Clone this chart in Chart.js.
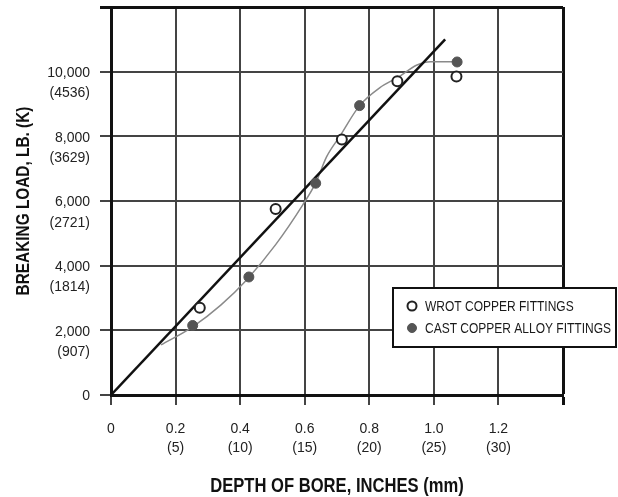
<!DOCTYPE html>
<html>
<head>
<meta charset="utf-8">
<script src="https://cdn.jsdelivr.net/npm/chart.js@4.4.1/dist/chart.umd.min.js"></script>
<style>
  html, body { margin: 0; padding: 0; background: #fff; }
  #wrap { width: 618px; height: 497px; }
</style>
</head>
<body>
<div id="wrap"><canvas id="chart" width="618" height="497"></canvas></div>
<script>
// wrot copper fittings (open circles)
const wrotDepth = [0.275, 0.51, 0.715, 0.887, 1.07];
const wrotLoad  = [2700, 5750, 7900, 9700, 9850];

// cast copper alloy fittings (filled circles)
const castDepth = [0.253, 0.427, 0.634, 0.77, 1.072];
const castLoad  = [2150, 3650, 6550, 8950, 10300];

// straight design line
const lineDepth = [0, 1.035];
const lineLoad  = [0, 11000];

// gray fitted curve
const curveDepth = [0.155, 0.253, 0.34, 0.42, 0.51, 0.594, 0.634, 0.668, 0.708, 0.77, 0.832, 0.893, 0.946, 0.99, 1.07];
const curveLoad  = [1550, 2110, 2780, 3560, 4650, 5880, 6560, 7370, 7990, 8950, 9500, 9850, 10200, 10310, 10310];

// tick labels
const xInch = ['0', '0.2', '0.4', '0.6', '0.8', '1.0', '1.2', ''];
const xMm   = ['', '(5)', '(10)', '(15)', '(20)', '(25)', '(30)', ''];
const yLb   = ['0', '2,000', '4,000', '6,000', '8,000', '10,000', ''];
const yKg   = ['', '(907)', '(1814)', '(2721)', '(3629)', '(4536)', ''];

const seriesNames = ['WROT COPPER FITTINGS', 'CAST COPPER ALLOY FITTINGS'];
const xTitle = 'DEPTH OF BORE, INCHES (mm)';
const yTitle = 'BREAKING LOAD, LB. (K)';

const plain = "'Liberation Sans', Arial, sans-serif";

function pts(xs, ys) {
  return xs.map((x, i) => ({ x: x, y: ys[i] }));
}

// no narrow font installed, so squeeze the text sideways like the condensed original
function squeezeText(ctx, text, x, y, rot, sx) {
  ctx.save();
  ctx.translate(x, y);
  ctx.rotate(rot);
  ctx.scale(sx, 1);
  ctx.fillText(text, 0, 0);
  ctx.restore();
}

// axis titles + legend box drawn over the plot
const extras = {
  id: 'extras',
  afterDraw(chart) {
    const ctx = chart.ctx;
    const area = chart.chartArea;
    ctx.save();
    ctx.fillStyle = '#111';
    ctx.textAlign = 'center';
    ctx.textBaseline = 'middle';
    ctx.font = 'bold 20.5px ' + plain;
    squeezeText(ctx, xTitle, (area.left + area.right) / 2, 486, 0, 0.81);
    ctx.font = 'bold 19px ' + plain;
    squeezeText(ctx, yTitle, 24, (area.top + area.bottom) / 2, -Math.PI / 2, 0.81);

    // legend
    const left = 393, top = 288, w = 223, h = 59;
    ctx.fillStyle = '#fff';
    ctx.fillRect(left, top, w, h);
    ctx.lineWidth = 2;
    ctx.strokeStyle = '#111';
    ctx.strokeRect(left, top, w, h);
    ctx.font = '15px ' + plain;
    ctx.textAlign = 'left';
    [0, 1].forEach((i) => {
      const ds = chart.data.datasets[i];
      const cy = top + 18 + i * 22;
      ctx.beginPath();
      ctx.arc(left + 19, cy, 4.5, 0, Math.PI * 2);
      ctx.fillStyle = ds.pointBackgroundColor;
      ctx.fill();
      ctx.lineWidth = ds.pointBorderWidth;
      ctx.strokeStyle = ds.pointBorderColor;
      ctx.stroke();
      ctx.fillStyle = '#1a1a1a';
      squeezeText(ctx, ds.label, left + 32, cy + 1, 0, 0.8);
    });
    ctx.restore();
  }
};

const ctx = document.getElementById('chart').getContext('2d');
new Chart(ctx, {
  type: 'scatter',
  data: {
    datasets: [
      {
        label: seriesNames[0],
        data: pts(wrotDepth, wrotLoad),
        showLine: false,
        pointRadius: 5,
        pointBackgroundColor: '#fff',
        pointBorderColor: '#222',
        pointBorderWidth: 2,
      },
      {
        label: seriesNames[1],
        data: pts(castDepth, castLoad),
        showLine: false,
        pointRadius: 5,
        pointBackgroundColor: '#555',
        pointBorderColor: '#555',
        pointBorderWidth: 1,
      },
      {
        label: 'line',
        data: pts(lineDepth, lineLoad),
        showLine: true,
        borderColor: '#111',
        borderWidth: 2.5,
        pointRadius: 0,
      },
      {
        label: 'curve',
        data: pts(curveDepth, curveLoad),
        showLine: true,
        borderColor: '#8a8a8a',
        borderWidth: 1.5,
        pointRadius: 0,
        cubicInterpolationMode: 'monotone',
      },
    ],
  },
  options: {
    responsive: false,
    animation: false,
    layout: { padding: { top: 7, right: 55, left: 0, bottom: 0 } },
    plugins: {
      legend: { display: false },
      tooltip: { enabled: false },
    },
    scales: {
      x: {
        type: 'linear',
        min: 0,
        max: 1.4,
        afterFit(scale) {
          scale.height = 102;
          scale.paddingLeft = 0;
          scale.paddingRight = 0;
        },
        ticks: {
          stepSize: 0.2,
          maxRotation: 0,
          autoSkip: false,
          padding: 15,
          color: '#222',
          font: { family: plain, size: 14, lineHeight: 1.36 },
          callback: (v, i) => (xMm[i] ? [xInch[i], xMm[i]] : xInch[i]),
        },
        grid: {
          color: (c) => (c.index === 7 ? '#111' : '#444'),
          lineWidth: (c) => (c.index === 7 ? 3 : 2),
          tickLength: 10,
        },
        border: { display: true, color: '#111', width: 3 },
      },
      y: {
        type: 'linear',
        min: 0,
        max: 12000,
        afterFit(scale) {
          scale.width = 111;
          scale.paddingTop = 0;
          scale.paddingBottom = 0;
        },
        ticks: {
          stepSize: 2000,
          autoSkip: false,
          padding: 10,
          labelOffset: 11.5,
          color: '#222',
          font: { family: plain, size: 14, lineHeight: 1.45 },
          callback: (v, i) => [yLb[i], yKg[i]],
        },
        grid: {
          color: (c) => (c.index === 6 ? '#111' : '#444'),
          lineWidth: (c) => (c.index === 6 ? 3 : 2),
          tickLength: 11,
        },
        border: { display: true, color: '#111', width: 3 },
      },
    },
  },
  plugins: [extras],
});
</script>
</body>
</html>
